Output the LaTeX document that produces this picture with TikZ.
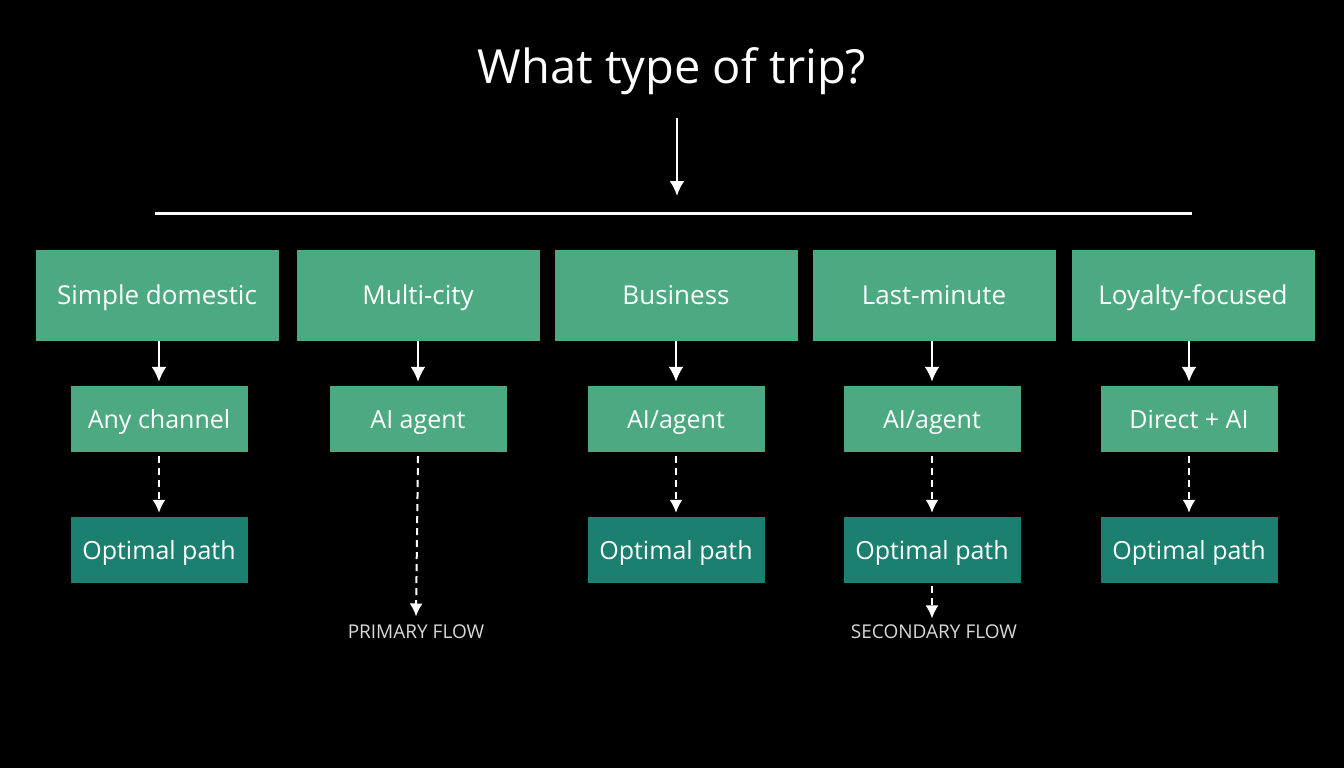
\documentclass[tikz,border=0pt]{standalone}
\usepackage{fontspec}
\setmainfont{Open Sans}
\usetikzlibrary{positioning,arrows.meta}
\definecolor{light}{HTML}{4DA982}
\definecolor{dark}{HTML}{1C8070}
\tikzset{
  kind/.style={fill=light,minimum width=243pt,minimum height=91pt,text=white,text height=21pt,text depth=2pt,font=\fontsize{26}{30}\selectfont},
  way/.style={fill=light,minimum width=177pt,minimum height=66pt,text=white,text height=21pt,text depth=2pt,font=\fontsize{25}{29}\selectfont},
  goal/.style={fill=dark,minimum width=177pt,minimum height=66pt,text=white,text height=21pt,text depth=2pt,font=\fontsize{25}{29}\selectfont},
  flow/.style={text=white!85!black,font=\fontsize{19}{22}\selectfont},
  solid arrow/.style={white,line width=2.5pt,-{Latex[length=15pt,width=15pt]}},
  dash arrow/.style={white,line width=2pt,dash pattern=on 7pt off 5pt,-{Latex[length=13pt,width=13pt]}}
}
\begin{document}
\begin{tikzpicture}[x=1pt,y=-1pt]
  \fill[black] (0,0) rectangle (1344,768);
  \useasboundingbox (0,0) rectangle (1344,768);

  \node[text=white,font=\fontsize{47}{52}\selectfont] (title) at (672,71) {What type of trip?};
  \coordinate (down) at (677,118);
  \coordinate (bar) at (677,196);
  \draw[solid arrow] (down) -- (bar);
  \draw[white,line width=3pt] (155,213) -- (1192,213);

  % trip types
  \node[kind] (k1) at (157,295) {Simple domestic};
  \node[kind] (k2) at (418,295) {Multi-city};
  \node[kind] (k3) at (676,295) {Business};
  \node[kind] (k4) at (934,295) {Last-minute};
  \node[kind] (k5) at (1193,295) {Loyalty-focused};

  % channels
  \node[way] (w1) at (159,419) {Any channel};
  \node[way] (w2) at (418,419) {AI agent};
  \node[way] (w3) at (676,419) {AI/agent};
  \node[way] (w4) at (932,419) {AI/agent};
  \node[way] (w5) at (1189,419) {Direct + AI};

  \node[goal] (g1) at (159,550) {Optimal path};
  \node[goal] (g3) at (676,550) {Optimal path};
  \node[goal] (g4) at (932,550) {Optimal path};
  \node[goal] (g5) at (1189,550) {Optimal path};

  \foreach \i in {1,...,5}
    \draw[solid arrow] (k\i.south -| w\i) -- ([yshift=4pt]w\i.north);
  \foreach \i in {1,3,4,5}
    \draw[dash arrow] ([yshift=-4pt]w\i.south) -- ([yshift=4pt]g\i.north);

  \node[flow] (f1) at (416,632) {PRIMARY FLOW};
  \node[flow] (f2) at (934,632) {SECONDARY FLOW};
  \draw[dash arrow] ([yshift=-4pt]w2.south) -- ([yshift=5pt]f1.north);
  \draw[dash arrow] ([yshift=-3pt]g4.south) -- ([yshift=3pt]f2.north -| g4);
\end{tikzpicture}
\end{document}
